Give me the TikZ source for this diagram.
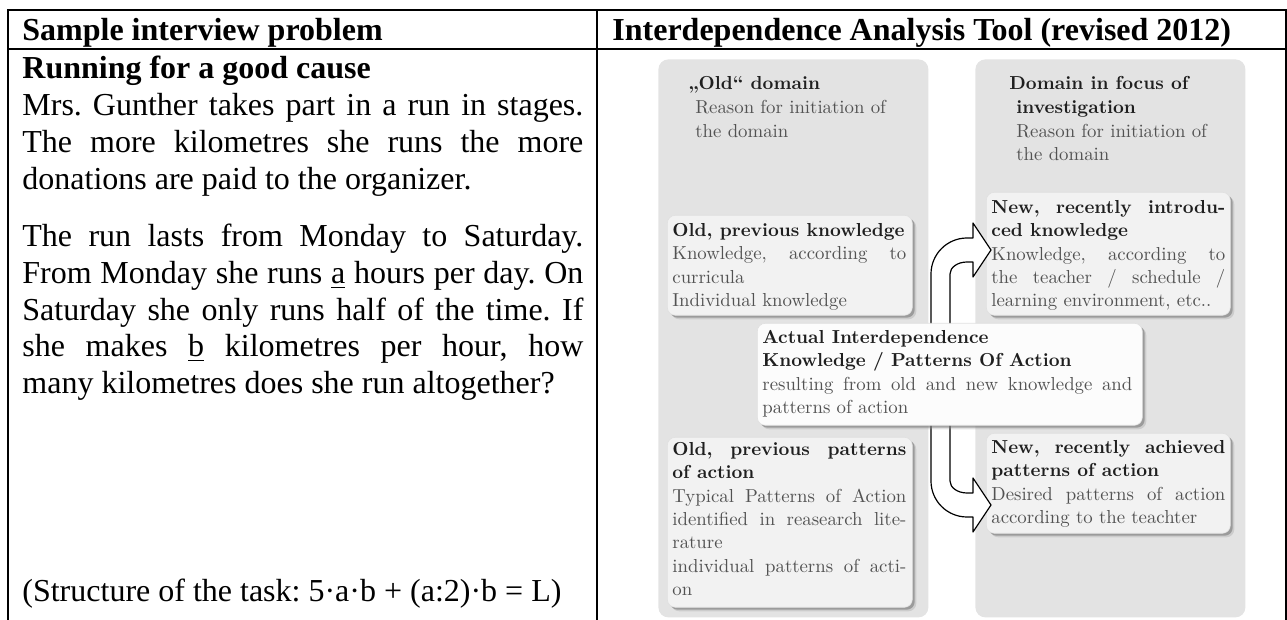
\documentclass[tikz,border=0pt]{standalone}
\usepackage{fontspec}
\newfontfamily\tnr{Liberation Serif}
\newfontfamily\lmr{lmroman10-regular}[Extension=.otf, BoldFont=lmroman10-bold]
\usetikzlibrary{calc,shadows}
\newcommand{\hd}[1]{\textcolor{black!88}{\bfseries #1}}
\frenchspacing
\begin{document}
\begin{tikzpicture}[x=0.5pt,y=-0.5pt,
  tline/.style={line width=1pt},
  tt/.style={font=\tnr\fontsize{16}{18}\selectfont, anchor=base west, inner sep=0pt},
  panel/.style={fill=black!11, rounded corners=5pt, inner sep=0pt, anchor=north west},
  ibox/.style={fill=black!5, draw=black!12, line width=0.3pt, rounded corners=4pt, inner sep=0pt, anchor=north west,
    drop shadow={shadow xshift=2pt, shadow yshift=-2pt, fill=black!40, opacity=0.3},
    drop shadow={shadow xshift=1.2pt, shadow yshift=-1.2pt, fill=black!55, opacity=0.55}},
  cbox/.style={ibox, fill=black!1},
  cmtext/.style={font=\lmr\fontsize{9.4}{11.65}\selectfont, text=black!68, anchor=north west, inner sep=0pt, align=justify},
  pantext/.style={font=\lmr\fontsize{9.4}{11.9}\selectfont, text=black!68, anchor=north west, inner sep=0pt, align=left},
  blockarrow/.style={fill=white, draw=black, line width=0.6pt, line join=round}
]
\useasboundingbox (0,0) rectangle (1287,620);
% table rules
\draw[tline] (7,10.5) -- (1287,10.5);
\draw[tline] (7,49.5) -- (1287,49.5);
\draw[tline] (8,10) -- (8,620);
\draw[tline] (597,10) -- (597,620);
\draw[tline] (1285.5,10) -- (1285.5,620);
% left column text
\node[tt] (h1) at (22,41) {\bfseries Sample interview problem};
\node[tt] (h2) at (612,41) {\bfseries Interdependence Analysis Tool (revised 2012)};
\node[tt] (r0) at (22,79) {\bfseries Running for a good cause};
\node[tt] (r1) at (22,116) {\makebox[280.5pt][s]{Mrs. Gunther takes part in a run in stages.}};
\node[tt] (r2) at (22,152.6) {\makebox[280.5pt][s]{The more kilometres she runs the more}};
\node[tt] (r3) at (22,189.4) {donations are paid to the organizer.};
\node[tt] (r4) at (22,247) {\makebox[280.5pt][s]{The run lasts from Monday to Saturday.}};
\node[tt] (r5) at (22,284) {\makebox[280.5pt][s]{From Monday she runs \underline{a} hours per day. On}};
\node[tt] (r6) at (22,321) {\makebox[280.5pt][s]{Saturday she only runs half of the time. If}};
\node[tt] (r7) at (22,357) {\makebox[280.5pt][s]{she makes \underline{b} kilometres per hour, how}};
\node[tt] (r8) at (22,394) {many kilometres does she run altogether?};
\node[tt] (r9) at (22,602) {(Structure of the task: 5·a·b + (a:2)·b = L)};
% right panel
\node[panel, minimum width=135pt, minimum height=279pt] (lp) at (658,59) {};
\node[panel, minimum width=135pt, minimum height=279pt] (rp) at (975,59) {};
\node[pantext] (lpt) at ($(lp.north west)+(30,17)$) {\hd{„Old“ domain}\\\hspace*{3.5pt}Reason for initiation of\\\hspace*{3.5pt}the domain};
\node[pantext] (rpt) at ($(rp.north west)+(34,17)$) {\hd{Domain in focus of}\\\hspace*{3.5pt}\hd{investigation}\\\hspace*{3.5pt}Reason for initiation of\\\hspace*{3.5pt}the domain};
% boxes
\node[ibox, minimum width=122.5pt, minimum height=50pt] (b1) at (667,215) {};
\node[ibox, minimum width=122pt, minimum height=61.5pt] (b2) at (986,192) {};
\node[ibox, minimum width=122.5pt, minimum height=85pt] (b3) at (667,437) {};
\node[ibox, minimum width=122pt, minimum height=50pt] (b4) at (986,433) {};
\node[cmtext, text width=117pt] (t1) at ($(b1.north west)+(5,8)$) {\hd{Old, previous knowledge}\\Knowledge, according to\linebreak curricula\\Individual knowledge};
\node[cmtext, text width=117pt] (t2) at ($(b2.north west)+(5,8)$) {\hd{New, recently introdu-\linebreak ced knowledge}\\Knowledge, according to\linebreak the teacher / schedule /\linebreak learning environment, etc..};
\node[cmtext, text width=117pt] (t3) at ($(b3.north west)+(5,5)$) {\hd{Old, previous patterns\linebreak of action}\\Typical Patterns of Action\linebreak identified in reasearch lite-\linebreak rature\\individual patterns of acti-\linebreak on};
\node[cmtext, text width=117pt] (t4) at ($(b4.north west)+(5,7)$) {\hd{New, recently achieved\linebreak patterns of action}\\Desired patterns of action\linebreak according to the teachter};
% arrows
\node[inner sep=0pt, anchor=north west, minimum width=192.5pt, minimum height=51pt] (cb) at (757,323) {};
\coordinate (a1) at ($(cb.north west)+(174,2)$);
\coordinate (e1) at ($(b2.north west)+(5,58)$);
\coordinate (a2) at ($(cb.south west)+(174,-2)$);
\coordinate (e2) at ($(b4.north west)+(5,72)$);
\draw[blockarrow] (a1) -- ($(a1 |- e1)+(0,24)$) arc[start angle=180, end angle=270, radius=36]
  -- ($(e1)+(-18,-12)$) -- ++(0,-15) -- (e1) -- ++(-18,27) -- ++(0,-15) -- ($(e1)+(-24,12)$)
  arc[start angle=270, end angle=180, x radius=17, y radius=12] -- ($(a1)+(19,0)$) -- cycle;
\draw[blockarrow] (a2) -- ($(a2 |- e2)+(0,-24)$) arc[start angle=180, end angle=90, radius=36]
  -- ($(e2)+(-18,12)$) -- ++(0,15) -- (e2) -- ++(-18,-27) -- ++(0,15) -- ($(e2)+(-24,-12)$)
  arc[start angle=90, end angle=180, x radius=17, y radius=12] -- ($(a2)+(19,0)$) -- cycle;
% centre box
\node[cbox, minimum width=192.5pt, minimum height=51pt] (cbx) at (cb.north west) {};
\node[cmtext, text width=185pt] (tc) at ($(cbx.north west)+(5,7)$) {\hd{Actual Interdependence}\\\hd{Knowledge / Patterns Of Action}\\resulting from old and new knowledge and\linebreak patterns of action};
\end{tikzpicture}
\end{document}
